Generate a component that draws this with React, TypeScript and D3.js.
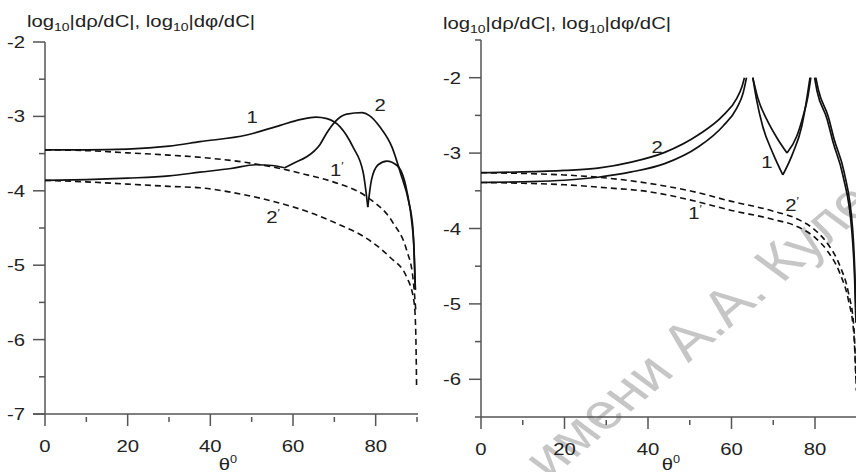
import React from "react";
import * as d3 from "d3";

type Pt = [number, number];

const xMajor = [0, 20, 40, 60, 80];
const xMinor = [10, 30, 50, 70, 90];
const leftYMajor = [-2, -3, -4, -5, -6, -7];
const leftYMinor = [-2.5, -3.5, -4.5, -5.5, -6.5];
const rightYMajor = [-2, -3, -4, -5, -6];
const rightYMinor = [-1.5, -2.5, -3.5, -4.5, -5.5];

// left panel, solid curves split at cusps
const left1: Pt[][] = [
  [[0, -3.45], [10, -3.45], [20, -3.44], [30, -3.4], [37.5, -3.34], [48.8, -3.25], [56.9, -3.12], [62, -3.04], [65.5, -3.01], [68.2, -3.03], [71.4, -3.14], [74.5, -3.41], [77, -3.76], [78.1, -4.22]],
  [[78.1, -4.22], [79, -3.85], [80.6, -3.65], [82.7, -3.6], [85.2, -3.66], [87.5, -3.99], [88.8, -4.45], [89.3, -4.8], [89.6, -5.33]],
];
const left2: Pt[][] = [
  [[0, -3.86], [10, -3.85], [20, -3.83], [30, -3.8], [37.5, -3.75], [45, -3.7], [51, -3.65], [55, -3.66], [58, -3.69]],
  [[58, -3.69], [60.5, -3.62], [63.1, -3.55], [66.5, -3.38], [68.2, -3.22], [70.2, -3.07], [73, -2.97], [76.7, -2.95], [78.5, -2.99], [81, -3.14], [84, -3.42], [86, -3.76], [88, -4.15], [89, -4.5], [89.6, -5.33]],
];
const left1p: Pt[][] = [
  [[0, -3.45], [10, -3.46], [20, -3.49], [30, -3.52], [37.5, -3.55], [48.8, -3.62], [56.9, -3.7], [63, -3.78], [69.7, -3.88], [77.8, -4.08], [84.2, -4.43], [87.5, -4.8], [89, -5.16], [89.7, -5.6]],
];
const left2p: Pt[][] = [
  [[0, -3.86], [10, -3.88], [20, -3.91], [30, -3.94], [37.5, -3.96], [48.8, -4.06], [59, -4.2], [65, -4.31], [70.6, -4.44], [77.8, -4.64], [83.4, -4.89], [87.5, -5.16], [89.3, -5.5], [89.7, -5.9], [89.9, -6.64]],
];

// right panel, solid curves split where they leave the top
const right1: Pt[][] = [
  [[0, -3.39], [10, -3.38], [20, -3.36], [28, -3.32], [36, -3.25], [44, -3.14], [52, -2.92], [58, -2.64], [61.3, -2.4], [62.8, -2.2], [63.6, -2.0]],
  [[65.1, -2.0], [66, -2.29], [67.5, -2.65], [69.9, -3.0], [72.3, -3.29]],
  [[72.3, -3.29], [74.7, -3.0], [76.8, -2.65], [78, -2.29], [78.8, -2.0]],
  [[79.9, -2.0], [80.5, -2.18], [82.9, -2.55], [84.3, -2.85], [86.7, -3.3], [88.8, -4.02], [89.5, -4.68], [89.8, -5.25]],
];
const right2: Pt[][] = [
  [[0, -3.26], [10, -3.25], [20, -3.23], [28, -3.2], [36, -3.12], [44, -2.99], [52, -2.76], [58, -2.5], [61.3, -2.27], [62.5, -2.12], [63.1, -2.0]],
  [[65.1, -2.0], [66.3, -2.27], [68.5, -2.56], [70.9, -2.8], [73.3, -3.0]],
  [[73.3, -3.0], [75.6, -2.78], [77.1, -2.52], [78.3, -2.25], [79, -2.0]],
  [[80.2, -2.0], [80.8, -2.16], [83.2, -2.52], [84.6, -2.82], [87, -3.26], [89, -4.0], [89.6, -4.68], [89.85, -5.2]],
];
const right1p: Pt[][] = [
  [[0, -3.39], [10, -3.4], [20, -3.42], [30, -3.46], [40, -3.51], [50, -3.62], [60, -3.76], [70, -3.88], [76, -3.98], [80.4, -4.14], [83, -4.3], [86, -4.6], [88, -4.95], [89.3, -5.4], [89.8, -6.0]],
];
const right2p: Pt[][] = [
  [[0, -3.26], [10, -3.27], [20, -3.29], [30, -3.33], [40, -3.4], [50, -3.5], [60, -3.64], [70, -3.77], [76, -3.88], [80.4, -4.04], [83, -4.2], [86, -4.5], [88, -4.85], [89.3, -5.3], [89.9, -6.15]],
];

const leftLabels = [
  { text: "1", prime: false, at: [50.1, -3.01] },
  { text: "2", prime: false, at: [81.1, -2.85] },
  { text: "1", prime: true, at: [70.6, -3.72] },
  { text: "2", prime: true, at: [55.2, -4.35] },
];
const rightLabels = [
  { text: "2", prime: false, at: [42.2, -2.92] },
  { text: "1", prime: false, at: [68.5, -3.12] },
  { text: "1", prime: true, at: [51.3, -3.79] },
  { text: "2", prime: true, at: [74.5, -3.69] },
];

const watermark = "имени А.А. Кулешова";

const FONT = "'Liberation Sans', Arial, sans-serif";
const SX = 1.27; // the source figure is stretched sideways
const AXIS = "#555";
const INK = "#111";

function SText(props: { x: number; y: number; anchor?: string; size?: number; children: React.ReactNode }) {
  const { x, y, anchor = "start", size = 16, children } = props;
  return (
    <text transform={`translate(${x},${y}) scale(${SX},1)`} textAnchor={anchor} fontSize={size} fontFamily={FONT} fill="#222">
      {children}
    </text>
  );
}

type PanelProps = {
  xRange: [number, number];
  yDomain: [number, number];
  yRange: [number, number];
  yMajor: number[];
  yMinor: number[];
  overhang: number;
  solid: Pt[][][];
  dashed: Pt[][][];
  labels: { text: string; prime: boolean; at: number[] }[];
  titleX: number;
  titleY: number;
  thetaX: number;
};

function Panel(p: PanelProps) {
  const x = d3.scaleLinear().domain([0, 90]).range(p.xRange);
  const y = d3.scaleLinear().domain(p.yDomain).range(p.yRange);
  const line = d3.line<Pt>().x(d => x(d[0])).y(d => y(d[1])).curve(d3.curveMonotoneX);
  const x0 = x(0);
  const yb = y(p.yDomain[0]);
  const yt = y(p.yDomain[1]);

  return (
    <g>
      {/* title */}
      <SText x={p.titleX} y={p.titleY} size={16}>
        log<tspan dy={4} fontSize={11}>10</tspan>
        <tspan dy={-4}>|dρ/dC|, log</tspan>
        <tspan dy={4} fontSize={11}>10</tspan>
        <tspan dy={-4}>|dφ/dC|</tspan>
      </SText>

      {/* axes */}
      <g stroke={AXIS} strokeWidth={1.5} fill="none">
        <line x1={x0} x2={x0} y1={yt} y2={yb} />
        <line x1={x0 - p.overhang} x2={Math.min(x(90) + 1, 856)} y1={yb} y2={yb} />
        {p.yMajor.map(v => <line key={"ym" + v} x1={x0 - 12} x2={x0} y1={y(v)} y2={y(v)} />)}
        {p.yMinor.map(v => <line key={"yn" + v} x1={x0 - 6} x2={x0} y1={y(v)} y2={y(v)} />)}
        {xMajor.map(v => <line key={"xm" + v} x1={x(v)} x2={x(v)} y1={yb} y2={yb + 12} />)}
        {xMinor.map(v => <line key={"xn" + v} x1={x(v)} x2={x(v)} y1={yb + 3} y2={yb + 8} />)}
      </g>
      {p.yMajor.map(v => (
        <SText key={"yl" + v} x={x0 - 20} y={y(v) + 6} anchor="end">{String(v)}</SText>
      ))}
      {xMajor.map(v => (
        <SText key={"xl" + v} x={x(v)} y={yb + 38} anchor="middle">{String(v)}</SText>
      ))}
      <SText x={p.thetaX} y={470} anchor="middle">
        θ<tspan dy={-7} fontSize={10}>0</tspan>
      </SText>

      {/* curves */}
      <g fill="none" stroke={INK} strokeWidth={1.7}>
        {p.solid.map((s, i) => s.map((seg, j) => <path key={`s${i}-${j}`} d={line(seg) || ""} />))}
      </g>
      <g fill="none" stroke={INK} strokeWidth={1.6} strokeDasharray="6 4">
        {p.dashed.map((s, i) => s.map((seg, j) => <path key={`d${i}-${j}`} d={line(seg) || ""} />))}
      </g>

      {p.labels.map((l, i) => (
        <SText key={"lab" + i} x={x(l.at[0])} y={y(l.at[1]) + 6} anchor="middle">
          {l.text}
          {l.prime ? <tspan dy={-6} fontSize={10}>′</tspan> : null}
        </SText>
      ))}
    </g>
  );
}

export default function App() {
  return (
    <svg width={856} height={472} style={{ position: "absolute", left: 0, top: 0, background: "#fff" }}>
      <rect width={856} height={472} fill="#fff" />
      {/* watermark, stretched like the rest of the figure */}
      <text
        transform="translate(550,480) scale(1.27,1) rotate(-47)"
        fontSize={50}
        fontFamily={FONT}
        fill="#c6c6c6"
      >
        {watermark}
      </text>
      <Panel
        xRange={[45, 417]}
        yDomain={[-7, -2]}
        yRange={[414, 42]}
        yMajor={leftYMajor}
        yMinor={leftYMinor}
        overhang={12}
        solid={[left1, left2]}
        dashed={[left1p, left2p]}
        labels={leftLabels}
        titleX={27}
        titleY={27}
        thetaX={228}
      />
      <Panel
        xRange={[481, 856.75]}
        yDomain={[-6.5, -1.5]}
        yRange={[417, 40]}
        yMajor={rightYMajor}
        yMinor={rightYMinor}
        overhang={6}
        solid={[right1, right2]}
        dashed={[right1p, right2p]}
        labels={rightLabels}
        titleX={443}
        titleY={29}
        thetaX={671}
      />
    </svg>
  );
}
